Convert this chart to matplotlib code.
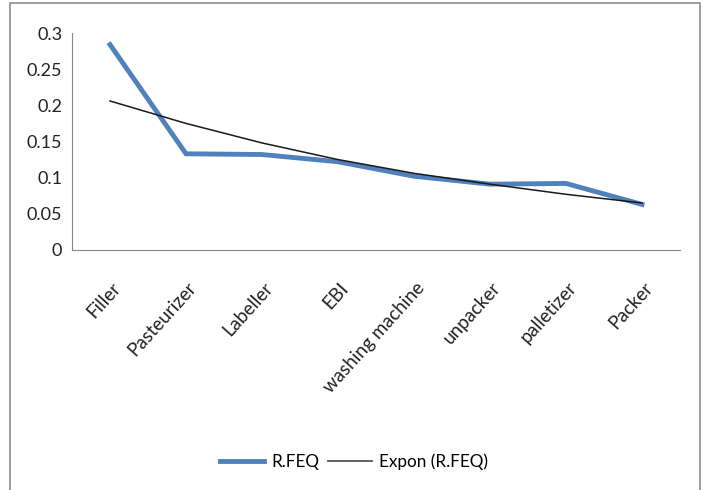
import matplotlib.pyplot as plt
import matplotlib.transforms as mtransforms
from matplotlib.patches import Rectangle
from matplotlib.lines import Line2D

# data
machines = ["Filler", "Pasteurizer", "Labeller", "EBI", "washing machine",
            "unpacker", "palletizer", "Packer"]
rfeq = [0.284, 0.133, 0.132, 0.122, 0.102, 0.091, 0.092, 0.063]
expon = [0.206, 0.175, 0.148, 0.125, 0.106, 0.091, 0.077, 0.065]
y_ticks = [0, 0.05, 0.1, 0.15, 0.2, 0.25, 0.3]
y_tick_labels = ["0", "0.05", "0.1", "0.15", "0.2", "0.25", "0.3"]

plt.rcParams['font.family'] = ['Lato', 'DejaVu Sans']

fig = plt.figure(figsize=(7.05, 4.9), dpi=100)
W, H = 705, 490

# outer chart frame
fig.patches.append(Rectangle((10 / W, -0.05), 690 / W, 1.05 - 3 / H,
                             transform=fig.transFigure, fill=False,
                             edgecolor="#8c8c8c", linewidth=1.2))

ax = fig.add_axes([72 / W, 1 - 250 / H, 608 / W, 217 / H])
x = list(range(len(machines)))
ax.plot(x, rfeq, color="#4f81bd", linewidth=3.5, solid_joinstyle="miter")
ax.plot(x, expon, color="#1a1a1a", linewidth=1.1)

ax.set_xlim(-0.5, len(machines) - 0.5)
ax.set_ylim(0, 0.3)
ax.set_yticks(y_ticks)
ax.set_yticklabels(y_tick_labels, fontsize=13, color="#222222")
ax.set_xticks(x)
ax.set_xticklabels(machines, rotation=48, ha="right", va="top",
                   rotation_mode="anchor", fontsize=13.5, color="#222222")
ax.tick_params(axis="both", length=0)
ax.tick_params(axis="y", pad=7)
ax.tick_params(axis="x", pad=21)

# nudge rotated labels a little to the right, as in the reference
shift = mtransforms.ScaledTranslation(1 / 100, 0, fig.dpi_scale_trans)
for lbl in ax.get_xticklabels():
    lbl.set_transform(lbl.get_transform() + shift)

for side in ["top", "right"]:
    ax.spines[side].set_visible(False)
ax.spines["left"].set_color("#888888")
ax.spines["bottom"].set_color("#888888")

handles = [Line2D([], [], color="#4f81bd", linewidth=3.5),
           Line2D([], [], color="#555555", linewidth=1.3)]
fig.legend(handles, ["R.FEQ", "Expon (R.FEQ)"], loc="center",
           bbox_to_anchor=(354 / W, 1 - 462 / H), ncol=2, frameon=False,
           fontsize=12.3, handlelength=2.6, columnspacing=0.5, handletextpad=0.4)

fig.savefig("out.png", dpi=100)
